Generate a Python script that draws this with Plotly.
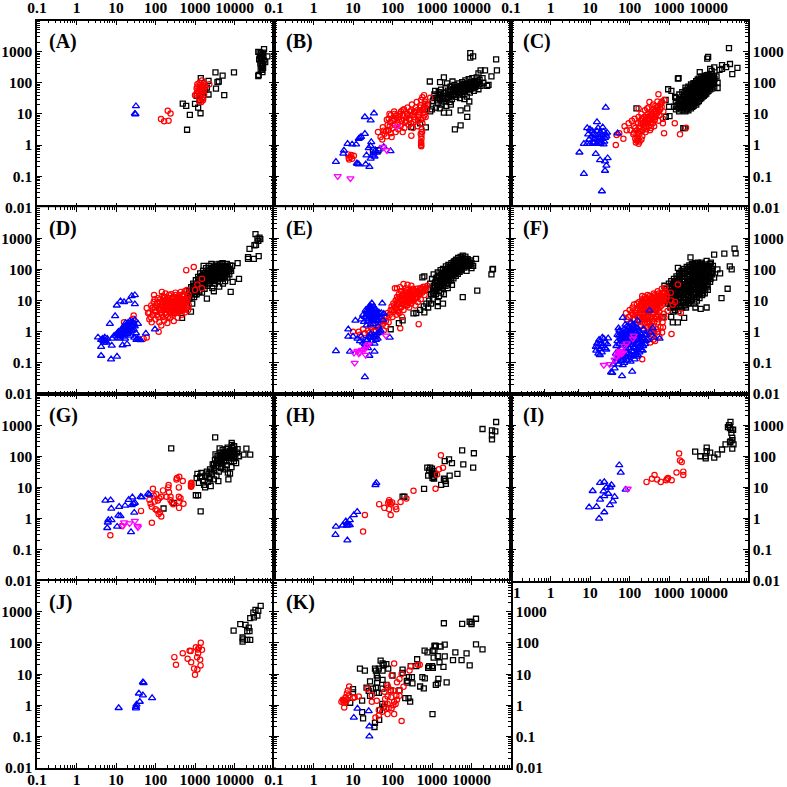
import plotly.graph_objects as go

A_sq=[(490,21.5),(600,18),(740,9.3),(630,3.1),(1380,10.5),(1200,16),(1000,21),(1400,140),(2200,115),(3300,215),(4000,110),(3700,105),(5000,170),(5500,40),(3400,65),(2200,42),(9700,215),(1300,28),(1600,35),(1800,60),(2000,70),(1500,48),(1100,38),
(56000,1200),(40000,980),(43000,960),(47000,900),(52000,930),(68000,700),(42000,560),(46000,600),(50000,640),(55000,520),(60000,460),(48000,480),(52000,400),(45000,420),(49000,350),(53000,300),(50000,260),(51000,220),(41000,180),(40000,165),(44000,700),(54000,750),(48000,800),(46000,270)]
A_ci=[(138,6.8),(165,5.8),(214,6),(204,12.6),(240,10.3),(1000,40),(1150,90),(1250,60),(1100,65),(1200,50),(1350,70),(1500,118),(1300,100),(1650,95),(1800,75),(2300,90),(1400,40),(1500,30),(1300,25),(1450,24),(1600,28),(1700,55),(1250,35),(1400,55),(1550,65),(1150,75),(1350,85),(1700,42),(1100,45),(1600,80),(1500,45)]
A_up=[(32,17.8),(30,10.2),(31,9.8)]

B_sq=[(9300,900),(9300,640),(11000,700),(42000,560),(44000,250),(17000,250),(22000,250),(32000,160),(25000,80),(27000,85),(15000,200),(880,110),(1600,105),(2000,150),(3800,3.2),(5300,4.3),(7800,8),(5300,13),(7800,15),(2700,11),(2000,11),(1570,15),(1000,14),(1250,16),
(1050,26),(1150,42),(1300,33),(1400,22),(1480,50),(1600,30),(1700,60),(1750,20),(1850,38),(2000,25),(2100,48),(2200,70),(2300,18),(2450,32),(2550,56),(2700,42),(2800,24),(2950,75),(3100,50),(3200,30),(3400,62),(3500,40),(3700,85),(3900,55),(4100,35),(4300,72),(4500,48),(4700,95),(4900,60),(5100,32),(5300,78),(5500,50),(5800,105),(6000,66),(6200,42),(6500,88),(6800,55),(7000,120),(7300,72),(7600,36),(7900,95),(8200,60),(8500,130),(8800,78),(9100,48),(9500,105),(10000,65),(10500,140),(10800,85),(11500,55),(12000,115),(12500,72),(13500,150),(14000,95),(15000,62),(16000,125),(17000,80),(19000,140),(20000,100),(1200,55),(1700,45),(2400,95),(3300,110),(6600,30),(8800,25),(3000,20),
(32,0.7),(44,0.68),(300,3.8),(500,5),(700,3.7),(650,14),(800,20),(900,12),
(1100,32),(1350,27),(1550,40),(1900,32),(2200,30),(2600,35),(3000,38),(2900,60),(3700,45),(3600,70),(4200,55),(4400,60),(4800,42),(5000,75),(5600,62),(5700,85),(6300,55),(6800,70),(7100,90),(7700,62),(8200,80),(9000,65),(9300,90),(10000,80),(11000,105),(11800,70),(13000,88),(14500,110),(16000,90)]
B_ci=[(8.6,.41),(7.5,.5),(9.5,.36),(8,.34),(9,.48),(10.5,.45),(7.8,.38),(43,2.6),(57,3.7),(63,2.3),(84,10),(80,7),(112,10),(181,2.6),(300,2),(520,2.3),(530,1.0),(530,1.25),(530,1.15),(535,.92),(570,34),(630,40),(900,33),
(50,1.8),(55,1.5),(68,2.8),(72,1.9),(75,4.4),(78,3),(88,5.5),(90,2.4),(95,1.8),(100,3.5),(105,6),(110,12),(115,4.4),(120,2.6),(125,7.5),(135,5),(140,3.2),(150,8),(160,4),(165,12),(175,6),(185,9),(195,14),(200,3.5),(210,5.5),(225,7.5),(235,10),(240,16),(260,4.5),(270,6.5),(285,9),(300,13),(310,20),(330,3.5),(340,5.5),(355,8),(375,11),(390,16),(410,24),(430,4),(445,6.5),(465,9.5),(490,13),(510,19),(530,28),(550,3.2),(570,5),(590,7.5),(610,11),(630,17),(660,25),(690,8),(720,13),(750,20),(540,2),(560,2.6),(540,1.6),(90,9),(72,6.5),(60,2.9),
(80,3),(85,4),(110,7),(125,9),(145,6.5),(155,10),(180,13),(220,6),(250,9),(280,12),(295,5),(320,9),(350,12),(370,6.5),(420,13),(450,8),(480,11),(500,16),(520,6.5),(590,14),(640,9),(680,21)]
B_up=[(34,10.5),(20,8),(28,6.2),(20,2.3),(15,1.7),(14,1.6),(7.3,1.1),(9.5,1.05),(12,1.05),(5.7,.53),(5.9,.67),(3.7,.29),(13,.25),(14,.24),(21,.24),(26,.2),(22,.47),(29,1.25),(28,.93),(25,.8),(37,.68),(28,.37),(35,.43),(47,.73),(60,.87),(89,.64),(12.5,.26),(16,1.85),(40,.58),(31,.47),(33,.55)]
B_dn=[(4.1,.1),(8.6,.085),(130,3.9),(57,.86),(72,.68)]

C_sq=[(33000,1300),(9300,600),(9800,680),(54000,300),(40000,190),(35000,400),(22000,370),(22000,280),(14000,310),(11000,280),(17000,68),(17000,100),(16000,160),(6000,220),(1680,135),(950,62),(1150,55),(150,15),(820,28),(1000,17),(1350,17),(830,8),(1030,8.5),(2300,3.5),(1430,35),(2500,3.5),(1750,140),(28000,320),(12000,240),(19000,260),
(1500,14),(1540,18),(1480,25),(1520,33),(1800,12),(1760,16),(1840,22),(1790,30),(1820,42),(2200,13),(2150,17),(2240,21),(2180,28),(2230,36),(2170,50),(2600,12),(2650,15),(2560,19),(2620,24),(2680,31),(2590,40),(2640,55),(2610,70),(3100,13),(3050,17),(3150,22),(3080,27),(3130,35),(3060,45),(3170,58),(3090,75),(3600,15),(3650,19),(3560,25),(3620,32),(3680,41),(3580,52),(3640,66),(3610,88),(4200,18),(4140,23),(4250,29),(4180,37),(4230,47),(4120,60),(4260,76),(4170,98),(4900,20),(4840,26),(4950,33),(4880,42),(4930,53),(4820,68),(4970,86),(4870,112),(5700,26),(5640,33),(5760,41),(5680,52),(5730,66),(5620,83),(5780,105),(5670,135),(6600,32),(6520,40),(6680,50),(6580,63),(6640,80),(6500,100),(6700,125),(6560,160),(7600,38),(7500,48),(7700,60),(7560,75),(7640,95),(7480,120),(7720,150),(8800,45),(8700,57),(8900,72),(8750,90),(8850,113),(8650,140),(8950,175),(10000,55),(9900,70),(10200,88),(9800,110),(10100,140),(9950,180),(12000,65),(11800,85),(12200,110),(11900,140),(12100,190),(14000,75),(13800,100),(14200,130),(13900,170),
(1650,20),(1950,15),(2000,26),(2400,18),(2450,30),(2400,45),(2850,14),(2850,23),(2900,36),(2800,60),(3350,20),(3350,30),(3300,50),(3400,68),(3900,17),(3900,28),(3900,40),(3850,58),(3950,80),(4500,22),(4500,33),(4550,47),(4500,70),(4550,90),(5250,24),(5300,37),(5250,50),(5300,75),(5250,98),(5300,125),(6100,30),(6150,46),(6100,60),(6150,92),(6100,118),(7100,36),(7050,55),(7100,70),(7050,108),(7100,138),(8200,42),(8150,66),(8200,85),(8150,125),(8200,160),(9400,52),(9400,80),(9350,100),(9400,155),(11000,62),(11000,78),(11000,125),(11000,165),(13000,90),(13000,115),(13000,150)]
C_ci=[(45,1),(70,1.6),(47,2.1),(85,3),(540,43),(1400,5),(1900,2.2),(2700,3.6),(750,2.4),(700,5),(55,2.4),(75,4),(95,5),(105,3),(115,6),(125,2.2),(130,4),(135,7),(140,1.6),(145,1.2),(150,1.4),(155,3),(160,1.7),(165,5),(170,8),(170,15),(180,2.3),(185,4),(190,6),(200,10),(210,1.9),(215,3),(225,5),(235,8),(245,13),(255,2.6),(265,4),(275,6.5),(290,10),(305,16),(320,24),(330,3),(345,5),(360,8),(380,13),(400,20),(420,4),(440,6.5),(460,10),(480,16),(510,25),(540,6),(570,9),(600,14),(640,22),(700,7),(720,12),(760,28),(250,6),(340,11),(450,18),(280,15),(150,2.2),(180,1.3),(220,7),
(130,2.5),(140,3.5),(165,2.5),(175,3.5),(190,2.8),(195,4.8),(205,7),(230,3.5),(245,5),(260,8),(270,3.2),(280,5),(295,7),(310,4),(320,6),(335,9),(350,3.5),(365,6.5),(375,10),(390,5),(405,8),(425,12),(445,8),(465,13),(490,10),(520,15),(560,12),(600,20),(650,17),(660,25),(170,1.1),(165,1.4),(200,1.5)]
C_up=[(25,16),(15,5.5),(5.4,.58),(7,.12),(20,.033),(14,.52),(18,.33),(28,.38),(24,.3),(26,.22),(24,.15),(50,2.4),(8.5,3.5),(10,3.2),(11.5,2.8),(9,2.2),(21,3.7),(16,3.5),(7,1.1),(8.5,1.1),(10,1.1),(9.5,1.5),(12,1.2),(13,1.6),(14,2.1),(15,1.1),(16,1.4),(17,1.8),(18,2.5),(19,1.2),(20,1.6),(21,2.1),(22,2.7),(23,1.3),(24,1.7),(25,2.2),(26,1.9),(11,1.9),(27,2.5),(18,1.1),(13,1.2),(22,1.05),(15,2.8),(12,2.2)]

D_sq=[(34000,1360),(45000,950),(40000,830),(38000,980),(43000,1050),(32000,600),(35000,620),(24000,460),(22000,250),(22000,220),(31000,220),(41000,270),(12000,160),(8700,130),(13000,50),(9000,40),(8000,19),(5700,130),(5000,160),(790,4.4),(470,2.8),(380,5),(850,8),(2000,11.5),
(600,10),(650,15),(700,20),(720,12),(800,27),(850,18),(900,35),(950,13),(1000,24),(1050,45),(1100,16),(1150,32),(1200,58),(1250,21),(1300,40),(1350,75),(1400,27),(1450,52),(1500,18),(1550,35),(1600,90),(1700,65),(1750,24),(1850,45),(1900,110),(2000,80),(2100,30),(2200,55),(2300,130),(2400,38),(2500,95),(2600,66),(2750,25),(2850,48),(2950,120),(3100,80),(3200,35),(3350,58),(3500,145),(3650,100),(3800,42),(3950,70),(4100,28),(4300,120),(4500,85),(4700,52),(4900,150),(5100,35),(5300,100),(5500,68),(5800,42),(6000,125),(6300,85),(6600,55),(7000,105),(7400,70),(7800,135),(8200,90),(6400,150),(3000,20),(4200,150),(1650,130),(2600,150),
(680,11),(760,17),(830,13),(880,24),(920,30),(1000,16),(1080,20),(1120,27),(1180,37),(1230,48),(1300,19),(1380,32),(1420,44),(1480,62),(1520,28),(1620,41),(1680,55),(1720,78),(1800,34),(1870,58),(1950,72),(2050,42),(2120,65),(2180,92),(2300,35),(2350,75),(2450,50),(2550,110),(2650,45),(2700,85),(2800,62),(2900,90),(3000,42),(3050,70),(3150,105),(3250,52),(3300,130),(3450,75),(3550,48),(3700,60),(3750,120),(3850,85),(4000,105),(4100,55),(4200,78),(4400,62),(4550,110),(4650,130),(4800,75),(5000,55),(5200,85),(5400,120),(5600,58),(5700,95),(5900,75),(6100,105),(6500,70),(6800,120),(7200,88),(7600,105)]
D_ci=[(600,95),(930,120),(1500,50),(1000,22),(1500,25),(1150,33),(690,15),(145,19),(16,2),(28,3.3),(27,2.6),(120,1),(60,.65),(50,.6),
(60,5.8),(65,4),(70,2.5),(75,3),(80,2),(85,6),(90,9),(92,15),(95,11),(98,4.5),(100,2.5),(105,7),(110,3.5),(115,12),(120,5.5),(125,2),(130,9),(135,4),(140,1.6),(145,7),(150,14),(155,3),(160,5),(165,2.3),(170,10),(180,17),(185,6.5),(190,3.5),(200,1.9),(210,8),(215,12),(225,4.5),(235,2.8),(240,6),(250,16),(260,9),(270,3.5),(280,5),(290,2.2),(300,13),(310,7),(320,18),(340,4),(350,10),(365,2.8),(380,6),(400,15),(420,8),(440,19),(460,3.5),(480,5.5),(500,11),(530,7),(560,4.2),(600,9),(640,13),(670,5),(700,7),(500,16),(550,20),(620,22),
(70,4),(78,7),(85,3.5),(95,6),(105,4.5),(110,8.5),(118,3),(125,6.5),(132,11),(138,5),(145,3.5),(150,9),(158,6.5),(165,13),(172,4),(178,7.5),(190,11),(195,5),(205,3),(212,6),(220,15),(230,9),(240,4),(255,7),(265,12),(275,5.5),(285,8),(295,4),(305,10),(315,6),(330,15),(345,8),(355,5),(370,12),(390,7),(410,4.5),(430,10),(450,6),(470,14),(490,8),(520,5),(540,10),(580,7),(620,6),(650,11),
(155,8),(170,6),(175,13),(185,8.5),(200,5),(205,12),(215,9),(225,6.5),(235,4),(245,10),(255,5),(270,8),(280,13),(290,6),(300,9),(310,4.5),(325,7),(335,11),(345,5.5),(360,9),(370,6.5),(385,10),(395,4.5),(405,13),(415,6),(425,8),(440,5),(455,9),(465,6.5),(480,11),(495,7),(510,9),(535,5.5),(550,8),(570,10)]
D_up=[(30,15),(25,14),(21,10),(16,9),(13,9.5),(10.5,7),(30,7.7),(9.5,3.2),(7,1.8),(11,.9),(4.2,.17),(7.5,.13),(10.6,.16),(4.2,.33),(3.5,.66),(4.2,.55),(5,.55),(8,.6),(14.7,.37),(19,.4),(7.8,.36),(42,.54),(57,.88),(97,1.2),(5,.45),(4.6,.6),(5.5,.5),(6,.6),(9,.75),(10.5,.85),(11.5,1),(12,.75),(12.5,.6),(13.5,.9),(14,1.1),(15,.7),(15.5,1.4),(16.5,.95),(17,.6),(18,1.2),(18.5,1.6),(19.5,.85),(20,1.9),(21,1.1),(22,1.4),(22.5,2.2),(23.5,.75),(25,1.6),(26,2.1),(28,1.2),(29,.65),(30,2.4),(33,.55),(35,.6),(36,1.8),(38,.55),
(11,.65),(12,.9),(13,.75),(14,1.25),(15,.85),(16,1.1),(17,1.5),(17.5,1.9),(19,1.4),(20,.95),(21,1.6),(22,1.1),(23,1.9),(24,1.3),(26,1.1),(27,1.6),(28,1.9),(30,1.5),(32,.9),(4.8,.5),(5.2,.65),(5.7,.45)]

E_sq=[(13000,220),(34000,100),(35000,105),(32000,70),(14000,21),(6000,13),(1900,8),(1400,6.6),(1400,9),(640,4.2),(340,3.9),(180,2.3),(145,1.9),(90,1.2),(570,56),(640,60),(10000,110),(400,4),(500,5),(620,6.5),(720,8),(800,6),(850,10),(950,8),(1050,11),
(800,22),(900,35),(950,16),(1000,50),(1050,26),(1100,70),(1150,20),(1200,38),(1250,16),(1300,55),(1350,28),(1400,80),(1450,42),(1500,21),(1550,62),(1600,32),(1650,95),(1700,18),(1750,48),(1800,72),(1850,26),(1900,105),(2000,38),(2050,58),(2100,85),(2200,30),(2250,125),(2300,46),(2400,68),(2450,100),(2550,36),(2600,140),(2700,55),(2800,82),(2900,118),(3000,44),(3100,160),(3200,66),(3300,98),(3400,135),(3500,52),(3600,180),(3700,78),(3800,115),(3900,155),(4000,62),(4100,205),(4200,92),(4400,135),(4500,72),(4600,235),(4700,175),(4800,108),(5000,84),(5100,150),(5300,255),(5400,200),(5500,125),(5700,100),(5900,170),(6000,280),(6200,225),(6400,140),(6600,115),(6800,195),(7000,260),(7300,160),(7600,125),(8000,215),(8300,180),(8700,140),(9000,150),(9400,195),(10000,160),(11000,130),(7500,90),(1100,17),(1500,14),(2500,25),(3200,32),(2000,16),
(1050,18),(1100,30),(1200,25),(1250,45),(1300,22),(1350,36),(1450,60),(1500,27),(1600,45),(1700,32),(1750,68),(1850,55),(1950,30),(2000,78),(2100,42),(2200,62),(2250,95),(2350,36),(2450,55),(2500,82),(2600,115),(2700,45),(2800,65),(2900,95),(3000,135),(3100,55),(3200,80),(3300,115),(3400,70),(3500,165),(3600,95),(3700,135),(3800,75),(3900,190),(4000,110),(4100,85),(4200,155),(4300,125),(4500,100),(4600,190),(4700,85),(4900,140),(5000,110),(5200,175),(5300,130),(5400,95),(5600,150),(5800,220),(6000,125),(6200,180),(6500,150),(6800,130),(7000,180),(7300,220),(7800,170),(8200,140),(8800,170),(9500,130)]
E_ci=[(115,25),(130,25),(155,27),(190,34),(300,30),(220,25),(240,32),(460,1.75),(157,1.3),(10,1),(14,1),(18,1.2),(58,1.8),(80,2),(15,.8),(20,.9),(24,1.1),(28,1.4),(32,1.6),(38,1.1),(42,1.4),(48,1.9),(52,2.5),(62,2.8),(68,2.2),(72,3.2),(75,4),(85,3.5),(90,5),(95,6.5),(100,3),(105,8),(110,4.5),(115,6),(120,10),(125,3.5),(130,13),(135,5),(140,7.5),(145,16),(150,4),(155,9),(160,6),(165,20),(170,11),(175,3),(180,8),(185,14),(190,5),(200,10),(210,18),(215,7),(225,12),(235,22),(245,9),(255,15),(265,6),(280,11),(290,19),(300,8),(315,13),(330,24),(345,10),(360,16),(380,7),(400,12),(420,20),(440,9),(470,15),(490,25),(520,11),(560,18),(600,28),(650,15),(700,24),(760,30),(650,21),
(100,5),(110,7),(120,5.5),(130,8),(135,11),(140,4.5),(150,9),(155,13),(165,6),(175,10),(180,16),(190,7.5),(195,12),(205,20),(215,9),(225,15),(235,7),(245,11),(250,18),(265,9),(275,14),(285,22),(295,11),(305,17),(320,10),(340,14),(355,20),(370,12),(390,17),(410,24),(430,13),(450,19),(480,17),(510,21),(550,24),(600,20),(660,27),(40,.8),(60,1.1),(70,1.5),(55,2.2),(45,1.2),(35,1),(25,.9)]
E_up=[(3.7,.24),(8.4,.23),(20,.035),(7.6,1.2),(7.6,.7),(10,.7),(85,.65),(55,8.2),(30,8.2),(11.5,2.3),(35,.23),(26,.17),(16,2.5),(18,3.5),(19,2.1),(21,5),(22,3),(23,4),(24,2.2),(25,6),(26,3.3),(27,7),(28,4.5),(29,2.6),(30,5.5),(32,3.2),(33,6.5),(34,4),(36,2.8),(38,5),(40,3.5),(42,2.2),(45,4.2),(48,3),(52,4),(60,3.8),(58,2.4),(28,1.7),(22,1.6),(33,1.8),(44,1.5),(50,1.1),(13,.6),(15,.5),(18,.45),(20,.4),(23,.55),(25,.7),(28,.85),(30,.5),(32,.65),(35,.42),(38,.55),(42,.9),(48,.95),(16,.7),(20,.32),(24,.3),
(20,3),(22,4.5),(24,3.5),(25,2.5),(26,5),(27,3),(28,6),(29,3.8),(31,4.8),(33,3.5),(35,5.5),(37,3.2),(39,4),(41,2.8),(43,3.5),(30,2.2),(35,2.2),(38,2.4),(28,.65),(33,.8),(38,.7),(42,.6),(22,.5),(26,.42)]
E_dn=[(11,.1),(68,.75),(25,.4),(23,.35),(20,.28),(15,.22),(10.6,.21),(21,.18),(17,.26),(14,.2),(13,.24)]

F_sq=[(400000,470),(430000,330),(200000,325),(100000,300),(290000,125),(330000,100),(250000,24),(165000,12),(20000,245),(8500,112),(60000,190),(42000,165),(33000,165),(125000,100),(150000,75),(100000,55),(65000,40),(40000,5.4),(28000,6),(60000,6),(6000,2),(8500,2),(13000,2.8),(5400,3),(3000,3),(7000,5),
(3400,30),(3500,18),(3700,10),(4000,24),(4200,14),(4300,8),(4600,35),(4800,20),(5000,12),(5100,6),(5400,42),(5600,27),(5800,16),(6000,9),(6200,4.5),(6500,50),(6700,33),(6900,20),(7100,12),(7300,6.5),(7700,60),(7900,40),(8100,25),(8300,15),(8500,8.5),(8800,4.5),(9200,72),(9400,50),(9600,32),(9800,20),(10000,12),(10300,6.5),(10900,90),(11100,60),(11400,40),(11700,25),(12000,15),(12300,9),(13000,105),(13200,72),(13500,48),(13800,30),(14100,19),(14400,11),(14800,6),(15500,120),(15800,85),(16100,58),(16400,38),(16800,24),(17200,14),(17600,8),(18500,135),(18900,98),(19300,68),(19700,45),(20100,29),(20500,18),(21000,10),(22000,150),(22500,110),(23000,78),(23500,52),(24000,34),(24500,22),(25000,13),(26000,8),(27000,160),(27500,122),(28000,88),(28500,60),(29000,40),(29500,26),(30000,16),(31000,10),(33000,135),(33500,98),(34000,70),(34500,47),(35000,31),(36000,20),(37000,12),(40000,150),(40500,110),(41000,78),(41500,53),(42000,36),(43000,24),(44000,15),(48000,125),(49000,88),(50000,60),(51000,41),(52000,27),(53000,17),(58000,110),(60000,78),(62000,52),(63000,34),(65000,22),(70000,130),(72000,90),(74000,60),(76000,40),(80000,165),(84000,105),(88000,70),(92000,130),
(4400,11),(4700,17),(4900,28),(5300,8),(5500,13),(5700,21),(6000,33),(6300,6),(6400,11),(6600,17),(6800,26),(7000,42),(7400,9),(7600,14),(7800,22),(8000,33),(8300,52),(8900,11),(9100,17),(9300,27),(9500,41),(9700,64),(10500,9),(10700,15),(11000,23),(11200,33),(11500,50),(11800,78),(12500,7),(12700,12),(13000,19),(13200,28),(13500,40),(13800,60),(14000,90),(15000,9),(15200,15),(15500,23),(15800,34),(16000,50),(16400,72),(16700,105),(17500,11),(17800,18),(18000,28),(18300,41),(18700,60),(19000,85),(19500,120),(20500,13),(21000,22),(21400,34),(21800,50),(22300,72),(22800,100),(23300,140),(24000,16),(24500,27),(25000,42),(25500,62),(26000,90),(26500,130),(27500,19),(28000,32),(28500,50),(29000,74),(29500,105),(30000,145),(31000,13),(32000,23),(32500,38),(33000,58),(33500,84),(34000,118),(36000,16),(36500,27),(37000,43),(37500,65),(38000,92),(38500,130),(41000,20),(42000,31),(43000,46),(44000,68),(45000,95),(46000,135),(47000,17),(48000,25),(49000,37),(50000,52),(51000,75),(52000,105),(53000,145),(55000,22),(56000,31),(57000,45),(58000,65),(59000,92),(61000,125),(64000,28),(66000,40),(68000,58),(70000,80),(72000,110),(75000,150),(78000,50),(82000,75),(86000,100),(90000,85),(7000,18),(5900,7),(9000,7),(11000,6),(14000,7),(17000,8.5),(20000,10)]
F_ci=[(750,14),(8500,33),(5200,18),(5400,10),(7000,9),(6000,7.4),(4200,4.6),(10400,4),(5500,.85),(2900,.95),(250,4),(750,.13),(260,2.5),
(300,3),(320,5),(350,1.8),(370,4),(390,6),(410,2.5),(430,7.5),(450,3.5),(470,5),(490,1.7),(520,8),(540,3),(560,5.5),(590,2.2),(610,9),(640,4),(670,6.5),(700,1.5),(720,3),(750,11),(780,5),(810,7.5),(850,2.5),(880,13),(910,4),(950,9),(990,6),(1030,2),(1080,15),(1120,3.2),(1170,7),(1220,11),(1280,5),(1330,1.6),(1390,9),(1450,13),(1500,3.8),(1570,6.5),(1640,17),(1720,2.6),(1800,10),(1880,5),(1970,14),(2060,7.5),(2150,20),(2250,3.4),(2350,11),(2450,6),(2560,16),(2700,9),(2850,24),(3000,13),(3200,18),(3400,8),(3600,26),(1100,1.1),(1500,.8),(2000,1.2),(2400,.7),(1800,.5),(1300,.45),(1000,.6),(3100,1.4),(3700,10),(4000,15),
(400,3.5),(460,2.5),(500,4),(560,3),(600,6.5),(650,5),(700,8),(760,4),(800,9.5),(830,3.5),(860,6),(900,11),(920,2.5),(980,4.5),(1000,8),(1050,12),(1100,6),(1150,3.5),(1200,9),(1250,14),(1300,3),(1350,7),(1400,11),(1480,2.2),(1520,5),(1600,8),(1650,12),(1700,4),(1780,15),(1850,7),(1900,3.2),(1950,10),(2000,5.5),(2100,13),(2200,8),(2300,17),(2400,4.5),(2500,10),(2650,13),(2800,7),(2950,18),(3100,10),(3300,14),(3500,20),(3800,13),(1250,1.8),(1600,1.5),(2100,2),(2600,3),(3300,3.8),
(650,3),(740,2),(830,2.5),(950,3),(1100,4.5),(1200,6),(1300,8),(1400,5),(1500,9),(1600,6),(1750,8),(1900,6),(2000,9),(2200,5.5),(2300,12),(2450,8),(2600,11),(2800,10),(3000,17),(3300,11),(900,5),(1000,3.2),(1400,3),(1700,2),(2000,3),(2300,2.5),(1150,2),(900,1.8),(800,1.2),(1050,1.4),(1400,1.1),(1700,1),(2200,1),(2600,1.4),(3000,2),(3400,2.8),(1200,.9),(1600,.55)]
F_up=[(1230,4.8),(200,2.8),(150,1.3),(540,2.3),(1530,1.3),(2450,.6),(190,.038),(380,.053),(98,.048),(115,.067),(200,.085),(180,.12),(90,.05),(105,.09),
(33,.25),(38,.2),(36,.32),(42,.28),(45,.4),(48,.22),(40,.55),(52,.35),(55,.6),(60,.45),(65,.27),(74,.62),(50,.65),(35,.42),(125,.2),(130,.35),(135,.14),(140,.5),(150,.25),(155,.75),(160,.4),(165,.17),(175,.9),(180,.55),(190,.3),(200,.7),(210,.2),(220,1.2),(230,.45),(240,.85),(250,.28),(265,1.5),(280,.6),(295,.16),(310,1),(330,.38),(350,.75),(370,.24),(390,1.7),(410,.5),(430,1.1),(460,.3),(490,.7),(520,.16),(550,1.3),(600,.45),(640,.9),(700,.26),(760,.6),(820,1.2),(900,.4),(1000,.8),(1100,.55),(1300,.95),(1700,.65),(450,.13),(560,.18),
(140,.8),(160,1.1),(185,.65),(200,.45),(215,.95),(230,.7),(250,.6),(270,.42),(285,.85),(300,.3),(320,.55),(345,.45),(360,1.3),(380,.65),(400,.38),(420,.85),(440,.5),(470,1),(500,.42),(530,.55),(580,.7),(620,.22),(680,.55),(730,.42),(780,.25),(860,.6),(950,.5),(130,.11),(150,.09),(170,.15),(210,.13),(250,.15),(300,.2),(350,.18),(400,.22),(480,.2),
(170,.6),(190,.8),(210,.55),(240,.35),(260,1.1),(290,.7),(310,.5),(335,.95),(360,.6),(390,.85),(420,.32),(450,.7),(480,.95),(510,.6),(560,.85),(610,.6),(660,.35),(720,.8),(800,.35),(880,.8),(240,1.7),(300,1.4),(350,2),(430,1.6),(480,1.4),(190,.18),(220,.1),(270,.12),(340,.11),(420,.17),(520,.28),(600,.3),(700,.4),(60,.3),(44,.5),(70,.4),(42,.18),(32,.33)]
F_dn=[(55,.085),(82,.09),(115,.125),(145,.2),(170,.22),(200,.21),(225,.35),(400,.6),(160,.24),(185,.2),(155,.18),(130,.16),(260,.42),(420,.75)]

G_sq=[(250,180),(3240,407),(20000,175),(17000,113),(25000,113),(8500,268),(160,2.1),(290,3.2),(1050,5.6),(1200,5.6),(1390,1.7),(1800,10),(3900,16),(7000,18),(7700,28),
(1100,20),(1150,27),(1250,14),(1350,22),(1450,29),(1600,16),(1700,12),(1850,24),(2000,32),(2100,15),(2300,20),(2400,38),(2500,11),(2700,27),(2800,55),(3000,18),(3100,35),(3200,75),(3400,48),(3500,24),(3700,100),(3800,62),(4000,32),(4200,130),(4400,80),(4600,42),(4800,58),(5000,160),(5200,105),(5400,70),(5700,38),(5900,130),(6100,90),(6400,52),(6700,190),(7000,110),(7300,70),(7600,150),(8000,85),(8400,45),(8800,200),(9200,120),(9700,70),(10000,160),(10500,95),(11000,60),(11500,130),(12000,170),(13000,100),(6200,170),(5000,45),(3600,70),(3000,55),(2400,18),(8600,230),(4200,180),(6800,30),(3300,115),(9800,210),
(2600,32),(3000,42),(3500,60),(3800,85),(4100,60),(4500,110),(4700,75),(5000,95),(5300,130),(5500,90),(5800,115),(6000,70),(6300,110),(6600,140),(7000,90),(7400,125),(7800,100),(8200,140),(8600,110),(9000,85),(9400,140),(10000,120),(1500,22),(2200,28)]
G_ci=[(7.2,.29),(14,.58),(43,1.76),(81,.73),(140,1.16),(86,9),(155,8),(215,12),(340,18),(400,22),(490,16),(390,10),(810,14),(800,12.5),(800,11.5),(790,10.5),(810,11),(790,13),(395,2.2),(510,3),(240,5),(190,5),(390,5),(70,4),(75,3),(80,2.4),(90,5.5),(95,3.5),(100,2),(105,6),(110,1.8),(115,3.8),(120,1.4),(125,4.5),(130,1.6),(140,5),(210,10),(220,7),(240,3.9),(260,3.3),(280,2.9),(400,3.5),(430,4.5),(350,20)]
G_up=[(5.4,3.8),(7.3,3.9),(7.6,2.1),(12,2.4),(17,2.6),(21,4),(26,4.8),(42,5),(65,6.3),(28,3),(25,2.7),(29,1.55),(11.5,1.25),(6.4,.9),(7.7,.9),(6.2,.75),(6,.5),(10.7,.55),(24,.37),(70,5.8),(45,4.8),(13,1.2),(30,3.2)]
G_dn=[(16,.75),(15,.58),(22,.7),(30,.84),(35,.58),(36,.52)]

H_sq=[(42000,1260),(19000,750),(33000,680),(40000,630),(33000,470),(33000,350),(5800,155),(11500,125),(2700,80),(3200,60),(2100,70),(6200,55),(11000,43),(4400,27),(2800,24),(630,9),(180,5),(200,5),(760,43),(900,43),(1000,40),(1100,34),(800,24),(1030,20),(1130,19),(980,26),(2000,19),(2200,16),(1700,12),(2250,13),(850,35),(1200,27),(1000,30),(1100,22),(2100,18)]
H_ci=[(1680,107),(1900,43),(1500,38),(1340,26),(1230,9),(340,7.8),(225,4.4),(160,3.4),(120,2.4),(125,2),(82,2),(90,1.3),(62,2.2),(46,2.9),(82,3.9),(90,3),(78,3.2),(98,3.3),(85,3.4),(20,1.3),(18,.38)]
H_up=[(39,14),(37,12),(12.8,1.65),(10.5,1.3),(8.3,.9),(6.6,.82),(7,.7),(8.3,.62),(5.5,.6),(3.7,.55),(3.6,.3),(7.2,.2),(7.6,.62),(7,.6)]

I_sq=[(36000,1270),(31000,860),(33000,1000),(35000,800),(42000,710),(38000,560),(40000,390),(35000,285),(27000,240),(43000,240),(40000,175),(22000,165),(14000,90),(17000,115),(11000,130),(9000,190),(9000,145),(8500,85),(6200,100),(4600,140),(38000,700),(40000,330),(36000,300),(8500,100)]
I_ci=[(1800,123),(1900,73),(2100,65),(2300,32),(2300,25),(1550,30),(1170,17),(900,19),(850,17),(620,15),(430,25),(370,19),(270,15),(500,18),(950,20)]
I_up=[(55,52),(60,30),(80,8.5),(11.7,7.7),(18,14),(23,15),(35,12),(32,10),(26,10),(22,7.5),(29,6.3),(23,5.3),(42,5),(18,4.1),(38,3.6),(32,2.7),(14.6,2.4),(9.5,2.3),(23,1.6),(17,1)]
I_dn=[(90,9)]

J_sq=[(46000,1550),(34000,1150),(30000,950),(40000,1070),(25000,630),(31000,660),(38000,760),(14000,400),(19000,380),(9500,250),(23000,310),(24000,240),(21000,240),(16000,150),(16000,110),(16500,130),(21000,125),(25000,125)]
J_ci=[(1400,102),(1050,73),(1250,70),(1500,60),(1180,62),(1200,47),(780,55),(730,56),(490,47),(300,35),(330,20),(650,31),(800,24),(1130,35),(1350,29),(1380,19),(1150,14),(950,15),(1000,9.5)]
J_up=[(48,5.5),(50,5.2),(38,2.4),(48,2.1),(82,1.7),(40,1.3),(33,1.05),(32,.9),(11.7,.82),(32,.8)]

K_sq=[(13000,600),(10000,460),(9000,480),(10000,400),(5800,410),(2000,430),(13000,90),(19000,62),(3900,50),(7500,46),(3400,28),(5600,28),(9000,19),(2100,88),(1200,80),(1650,77),(1050,57),(650,57),(770,50),(1100,34),(1400,38),(2100,37),(1550,24),(1950,17),(2350,5.4),(1450,7),(1400,5),(1250,4.5),(660,7.3),(570,8),(620,3.5),(500,4),(1030,.52),(280,1.3),(255,1.7),(210,1.7),
(15,15),(20,13),(36,15),(50,27),(56,22),(70,21),(78,15),(40,9),(42,7.5),(100,9),(38,13),(56,13),(41,5.2),(56,6.5),(38,3.7),(40,2.5),(22,3.7),(25,2.9),(27,5.8),(10,3.3),(10,2.6),(32,3.4),(56,3.4),(8.5,1.2),(17,1.4),(27,2),(17,.6),(18,.38),(36,.27),(35,.2),(46,.34),(48,.7),(60,.9),(55,1.1),(180,14),(180,11),(310,8),(260,8),(240,5.3),(320,5),(230,6),(150,3),(420,30),(290,18),(400,18),(1000,18),(850,18),(800,16),(1150,55),(1050,16),(1150,80),(1250,80),(45,15),(45,2.5),(70,4.5),(60,20),(90,3)]
K_ci=[(110,22),(95,9),(440,20),(490,20),(290,18),(270,13),(170,10),(150,7),(130,5.5),(75,4.4),(78,3.7),(190,3.9),(105,3),(150,3),(90,3),(62,2.7),(75,1.9),(93,1.8),(125,2),(150,2),(130,1.5),(110,1.3),(105,1),(120,1.1),(170,.31),(110,.52),(75,.52),(45,.47),(37,.4),(45,.7),(55,.62),(68,.78),(80,.8),(95,.8),(30,2.1),(30,1.3),(40,1.4),(23,3.4),(14,1.9),(10,1.7),(11,1.8),(8,4),(7.4,3),(7,2.4),(8,2.1),(5.8,1.5),(5.1,1.3),(6.5,1.8),(6.6,1.3),(7,1.5),(6,.85),(5.8,1.2),(65,1.6),(65,1.1),(75,1.1),(5.5,1.5),(6,1.4)]
K_up=[(13,.78),(10.5,.4),(25,.65),(26,.21),(26,.1)]

PANELS = ["A","B","C","D","E","F","G","H","I","J","K"]
SERIES = {
 "A":(A_sq,A_ci,A_up,[]),"B":(B_sq,B_ci,B_up,B_dn),"C":(C_sq,C_ci,C_up,[]),
 "D":(D_sq,D_ci,D_up,[]),"E":(E_sq,E_ci,E_up,E_dn),"F":(F_sq,F_ci,F_up,F_dn),
 "G":(G_sq,G_ci,G_up,G_dn),"H":(H_sq,H_ci,H_up,[]),"I":(I_sq,I_ci,I_up,I_dn),
 "J":(J_sq,J_ci,J_up,[]),"K":(K_sq,K_ci,K_up,[]),
}
X_TICKS=[0.1,1,10,100,1000,10000,100000]
X_TEXT=["0.1","1","10","100","1000","10000",""]
Y_TICKS=[0.01,0.1,1,10,100,1000,10000]
Y_TEXT=["0.01","0.1","1","10","100","1000",""]
STYLES=[("square-open","#000000",5,1.3),("circle-open","#ff0000",5.3,1.2),("triangle-up-open","#0000ff",6.3,1.3),("triangle-down-open","#ff00ff",6.3,1.3)]

W=787.0; H=787.0
COL_L=[37,274,511]; COL_W=237
ROW_T=[20.5,207.2,394,580.7]; ROW_H=186.8
FONT="Liberation Serif"

def minor(lo,hi):
    return [m*10**e for e in range(lo,hi) for m in range(2,10)]

fig=go.Figure()
layout={}
annotations=[]
base=dict(type="log",automargin=False,showgrid=False,zeroline=False,showline=True,linecolor="#000",linewidth=1.5,
          ticks="inside",ticklen=5,tickwidth=1,tickcolor="#000",tickmode="array",
          tickfont=dict(family=FONT,size=15.5,color="#000",weight="bold"),ticklabelstandoff=0)
for i,p in enumerate(PANELS):
    r,c=divmod(i,3)
    n=i+1
    xa="x" if n==1 else f"x{n}"; ya="y" if n==1 else f"y{n}"
    for pts,(sym,col,sz,lw) in zip(SERIES[p],STYLES):
        if not pts: continue
        xs,ys=zip(*pts)
        fig.add_trace(go.Scatter(x=list(xs),y=list(ys),mode="markers",xaxis=xa,yaxis=ya,showlegend=False,hoverinfo="skip",
            marker=dict(symbol=sym,color=col,size=sz,line=dict(color=col,width=lw))))
    xtop=p in "ABC"; xbot=p in "IJK"
    yleft=p in "ADGJ"; yright=p in "CFIK"
    xt=X_TICKS; xl=X_TEXT; xr=[-1,5]; xmin=minor(-1,5); xm="ticks"
    if p=="F":
        xt=X_TICKS+[1000000]; xl=[""]*8; xr=[-1,6]; xmin=minor(-1,6); xm=False
    dom=[COL_L[c]/W,(COL_L[c]+COL_W)/W]
    layout[f"xaxis{n}"]=dict(base,range=xr,tickvals=xt,ticktext=xl,showticklabels=xtop or xbot,mirror=xm,
        side="top" if xtop else "bottom",anchor=ya,domain=dom,ticklabelstandoff=-3 if xbot else 0,
        minor=dict(ticks="inside",ticklen=3,tickwidth=1,tickcolor="#000",tickmode="array",tickvals=xmin,showgrid=False))
    layout[f"yaxis{n}"]=dict(base,range=[-2,4],tickvals=Y_TICKS,ticktext=Y_TEXT,showticklabels=yleft or yright,mirror="ticks",
        side="right" if yright else "left",anchor=xa,
        domain=[1-(ROW_T[r]+ROW_H)/H,1-ROW_T[r]/H],
        minor=dict(ticks="inside",ticklen=3,tickwidth=1,tickcolor="#000",tickmode="array",tickvals=minor(-2,4),showgrid=False))
    annotations.append(dict(text=f"({p})",xref="paper",yref="paper",x=(COL_L[c]+9.5)/W,y=1-(ROW_T[r]+21.5)/H,
        xanchor="left",yanchor="middle",showarrow=False,font=dict(family=FONT,size=20,color="#000",weight="bold")))

# panel F: its top edge carries the 6-decade scale, its bottom edge a 7-decade scale
fig.add_trace(go.Scatter(x=[None],y=[None],xaxis="x12",yaxis="y6",showlegend=False,hoverinfo="skip",mode="markers"))
layout["xaxis12"]=dict(base,range=[-1,5],tickvals=X_TICKS,ticktext=X_TEXT,showticklabels=False,side="top",anchor="y6",overlaying="x6",
    domain=layout["xaxis6"]["domain"],
    minor=dict(ticks="inside",ticklen=3,tickwidth=1,tickcolor="#000",tickmode="array",tickvals=minor(-1,5),showgrid=False))

fig.update_layout(width=787,height=787,autosize=False,margin=dict(l=0,r=0,t=0,b=0),
    paper_bgcolor="#fff",plot_bgcolor="#fff",showlegend=False,annotations=annotations,**layout)
fig.write_html("out.html",post_script="document.body.style.margin='0';",config={"displayModeBar":False})
